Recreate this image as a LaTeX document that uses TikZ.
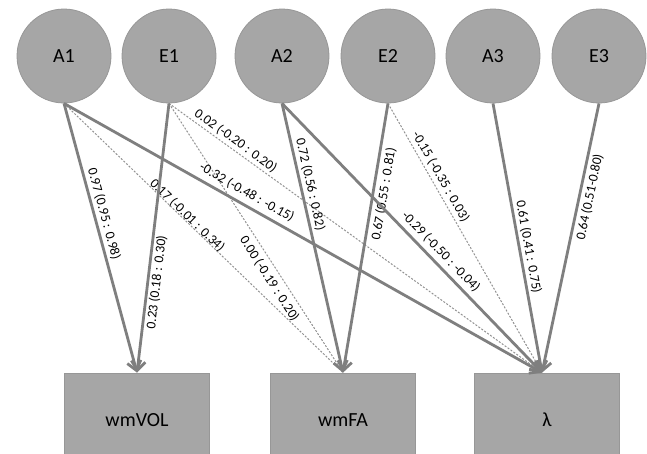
\documentclass[tikz,border=0pt]{standalone}
\usepackage{fontspec}
\setmainfont{Carlito}
\usetikzlibrary{arrows.meta}
\definecolor{nodefill}{HTML}{A6A6A6}
\definecolor{nodeline}{HTML}{979797}
\definecolor{edgegray}{HTML}{7F7F7F}
\definecolor{weakgray}{HTML}{929292}
\begin{document}
\begin{tikzpicture}[x=1pt,y=-1pt,
  latent/.style={circle, minimum size=94pt, inner sep=0pt, fill=nodefill,
    draw=nodeline, line width=0.8pt, font=\fontsize{20}{24}\selectfont},
  observed/.style={rectangle, minimum width=145pt, minimum height=94pt,
    inner sep=0pt, fill=nodefill, draw=nodeline, line width=0.8pt,
    font=\fontsize{20}{24}\selectfont},
  effect/.style={edgegray, line width=2.8pt,
    -{Straight Barb[length=9pt,width=14pt]}},
  weakeffect/.style={weakgray, line width=1pt, dash pattern=on 2pt off 1.6pt},
  est/.style={font=\fontsize{13.5}{15}\selectfont, sloped, inner sep=1pt, text=black}
]
\useasboundingbox (0,0) rectangle (647,453);
\clip (0,0) rectangle (647,453);

% latent factors
\node[latent] (A1) at (64,56)  {A1};
\node[latent] (E1) at (169,56) {E1};
\node[latent] (A2) at (282,56) {A2};
\node[latent] (E2) at (388,56) {E2};
\node[latent] (A3) at (493,56) {A3};
\node[latent] (E3) at (599,56) {E3};

% measured outcomes
\node[observed] (vol) at (137,420) {wmVOL};
\node[observed] (fa)  at (343,420) {wmFA};
\node[observed] (lam) at (547,420) {λ};
\coordinate (lamin) at ([xshift=-5pt]lam.north);

% non-significant paths
\draw[weakeffect] (A1.south) -- (fa.north)
  node[est, pos=0.43, above=-2.5pt] {0.17 (-0.01 : 0.34)};
\draw[weakeffect] (E1.south) -- (fa.north)
  node[est, pos=0.63, below=3.5pt] {0.00 (-0.19 : 0.20)};
\draw[weakeffect] (E1.south) -- (lamin)
  node[est, pos=0.165, above=1.5pt] {0.02 (-0.20 : 0.20)};
\draw[weakeffect] (E2.south) -- (lamin)
  node[est, pos=0.29, above=2pt] {-0.15 (-0.35 : 0.03)};

% significant paths
\draw[effect] (A1.south) -- (vol.north)
  node[est, pos=0.42, above=1.5pt] {0.97 (0.95 : 0.98)};
\draw[effect] (E1.south) -- (vol.north)
  node[est, pos=0.66, below=0.5pt] {0.23 (0.18 : 0.30)};
\draw[effect] (A1.south) -- (lamin)
  node[est, pos=0.37, above=4pt] {-0.32 (-0.48 : -0.15)};
\draw[effect] (A2.south) -- (fa.north)
  node[est, pos=0.31, above=1.5pt] {0.72 (0.56 : 0.82)};
\draw[effect] (E2.south) -- (fa.north)
  node[est, pos=0.33, below=2.5pt] {0.67 (0.55 : 0.81)};
\draw[effect] (A2.south) -- (lamin)
  node[est, pos=0.58, above=3pt] {-0.29 (-0.50 : -0.04)};
\draw[effect] (A3.south) -- (lamin)
  node[est, pos=0.54, above=1pt] {0.61 (0.41 : 0.75)};
\draw[effect] (E3.south) -- (lamin)
  node[est, pos=0.34, below=2pt] {0.64 (0.51-0.80)};
\end{tikzpicture}
\end{document}
